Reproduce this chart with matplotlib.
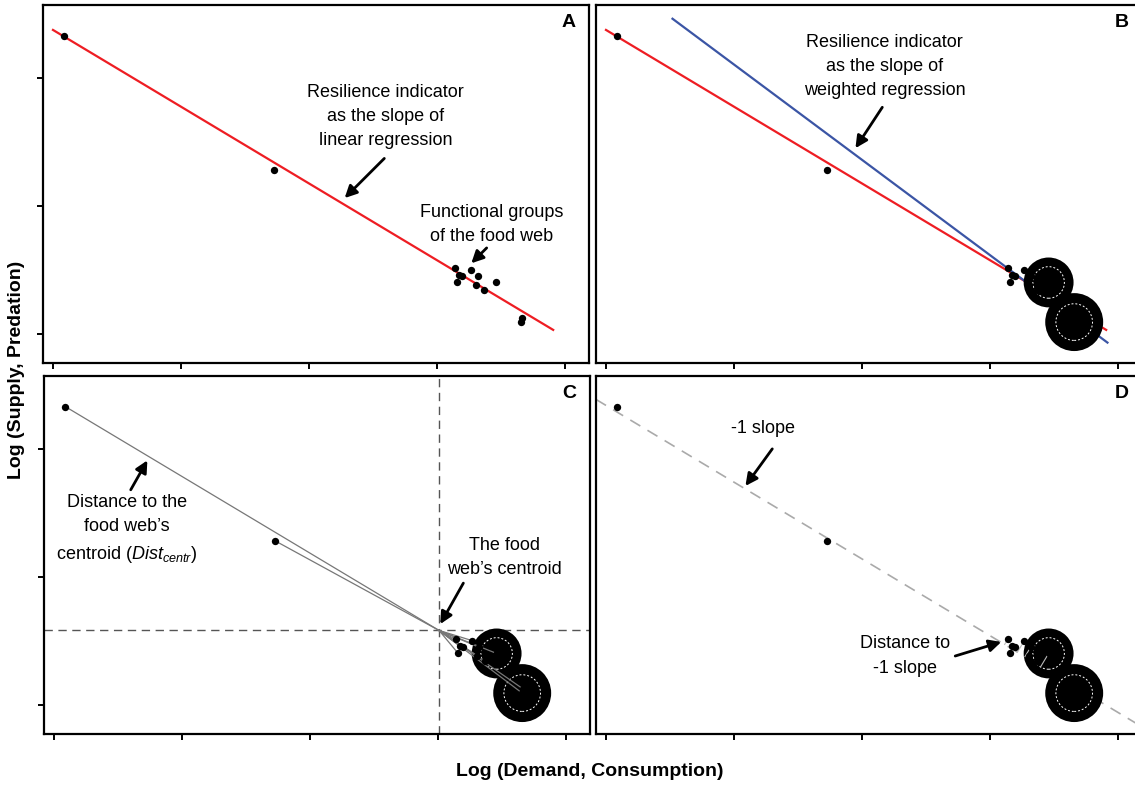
import numpy as np
import matplotlib
matplotlib.use("Agg")
import matplotlib.pyplot as plt

plt.rcParams['font.family'] = ['Liberation Sans', 'DejaVu Sans']
plt.rcParams['mathtext.fontset'] = 'custom'
plt.rcParams['mathtext.rm'] = 'Liberation Sans'
plt.rcParams['mathtext.it'] = 'Liberation Sans:italic'

# log demand (x) and log supply (y) of the functional groups
demand = [0.09, 1.73, 3.14, 3.17, 3.20, 3.16, 3.27, 3.32, 3.31, 3.37, 3.46, 3.66, 3.67]
supply = [2.33, 1.28, 0.51, 0.46, 0.45, 0.40, 0.50, 0.45, 0.38, 0.34, 0.40, 0.09, 0.12]
# relative weights (bubble area) used in panels B-D
weight = [1, 1, 1, 1, 1, 1, 1, 1, 1, 1, 43, 58, 1]

# fitted lines: (intercept, slope)
linear_fit = (2.375, -0.60)
linear_fit_range = [0.0, 3.91]
weighted_fit = (2.85, -0.745)
weighted_fit_range = [0.52, 3.92]
centroid = (3.01, 0.58)
ref_line = (2.34, -0.60)

x_ticks = [0, 1, 2, 3, 4]
y_ticks = [0, 1, 2]

RED = "#ee1d23"
BLUE = "#3b55a5"

x = np.array(demand)
y = np.array(supply)
w = np.array(weight)
big = w > 1

fig = plt.figure(figsize=(11.35, 7.85), dpi=100)
W, H = 1135, 785


def make_ax(left, top, with_yticks):
    ax = fig.add_axes([left / W, (H - top - 358) / H, 546 / W, 358 / H])
    ax.set_xlim(-0.078, 4.19)
    ax.set_ylim(-0.23, 2.57)
    ax.set_xticks(x_ticks)
    ax.set_yticks(y_ticks if with_yticks else [])
    ax.set_xticklabels([])
    ax.set_yticklabels([])
    ax.tick_params(length=4, width=1.4, color='black')
    for sp in ax.spines.values():
        sp.set_linewidth(1.6)
    return ax


def panel_letter(ax, letter):
    ax.text(0.962, 0.952, letter, transform=ax.transAxes, ha='center', va='center',
            fontsize=14, fontweight='bold')


def note(ax, text, xy_text, xy_head, xy_tail):
    ax.text(*xy_text, text, ha='center', va='center', fontsize=13, linespacing=1.55, zorder=6)
    ax.annotate("", xy=xy_head, xytext=xy_tail,
                arrowprops=dict(arrowstyle='-|>', color='black', lw=2, mutation_scale=18,
                                shrinkA=0, shrinkB=0), zorder=6)


def bubbles(ax):
    ax.scatter(x[big], y[big], s=30 * w[big], color='black', zorder=3, linewidths=0)
    ax.scatter(x[big], y[big], s=12 * w[big], facecolor='none', edgecolor='white',
               linestyle=(0, (2, 2)), linewidths=0.7, zorder=3.5)


def points(ax):
    ax.scatter(x, y, s=28, color='black', zorder=4, linewidths=0)


ax_a = make_ax(43, 5, True)
ax_b = make_ax(596, 5, False)
ax_c = make_ax(44, 376, True)
ax_d = make_ax(596, 376, False)

# A: linear regression
fx = np.array(linear_fit_range)
ax_a.plot(fx, linear_fit[0] + linear_fit[1] * fx, color=RED, lw=1.6, zorder=2)
points(ax_a)
note(ax_a, "Resilience indicator\nas the slope of\nlinear regression",
     (2.60, 1.70), (2.28, 1.06), (2.59, 1.37))
note(ax_a, "Functional groups\nof the food web", (3.43, 0.85), (3.27, 0.55), (3.39, 0.67))
panel_letter(ax_a, "A")

# B: weighted regression
ax_b.plot(fx, linear_fit[0] + linear_fit[1] * fx, color=RED, lw=1.6, zorder=2)
wx = np.array(weighted_fit_range)
ax_b.plot(wx, weighted_fit[0] + weighted_fit[1] * wx, color=BLUE, lw=1.6, zorder=2)
bubbles(ax_b)
points(ax_b)
note(ax_b, "Resilience indicator\nas the slope of\nweighted regression",
     (2.18, 2.09), (1.95, 1.45), (2.16, 1.77))
panel_letter(ax_b, "B")

# C: distance to centroid
ax_c.axvline(centroid[0], color='#555555', lw=1, ls=(0, (6, 4)), zorder=1)
ax_c.axhline(centroid[1], color='#555555', lw=1, ls=(0, (6, 4)), zorder=1)
bubbles(ax_c)
for xi, yi in zip(x, y):
    ax_c.plot([centroid[0], xi], [centroid[1], yi], color='#777777', lw=0.9, zorder=3.8)
points(ax_c)
note(ax_c, "Distance to the\nfood web\u2019s\ncentroid ($\\mathit{Dist}_{\\mathit{centr}}$)",
     (0.57, 1.37), (0.73, 1.91), (0.60, 1.68))
note(ax_c, "The food\nweb\u2019s centroid", (3.52, 1.15), (3.02, 0.63), (3.20, 0.95))
panel_letter(ax_c, "C")

# D: distance to -1 slope
ax_d.axline((0, ref_line[0]), slope=ref_line[1], color='#aaaaaa', lw=1.2,
            ls=(0, (7, 5)), zorder=1)
bubbles(ax_d)
m, b = ref_line[1], ref_line[0]
for xi, yi in zip(x[2:], y[2:]):
    xf = (xi + m * (yi - b)) / (1 + m * m)
    ax_d.plot([xi, xf], [yi, m * xf + b], color='#bbbbbb', lw=0.8, zorder=3.8)
points(ax_d)
note(ax_d, "-1 slope", (1.23, 2.16), (1.09, 1.71), (1.30, 2.0))
note(ax_d, "Distance to\n-1 slope", (2.34, 0.38), (3.09, 0.49), (2.73, 0.38))
panel_letter(ax_d, "D")

fig.text(17 / W, 1 - 370 / H, "Log (Supply, Predation)", rotation=90, ha='center', va='center',
         fontsize=14, fontweight='bold')
fig.text(590 / W, 1 - 771 / H, "Log (Demand, Consumption)", ha='center', va='center',
         fontsize=14, fontweight='bold')

fig.savefig("out.png", dpi=100)
